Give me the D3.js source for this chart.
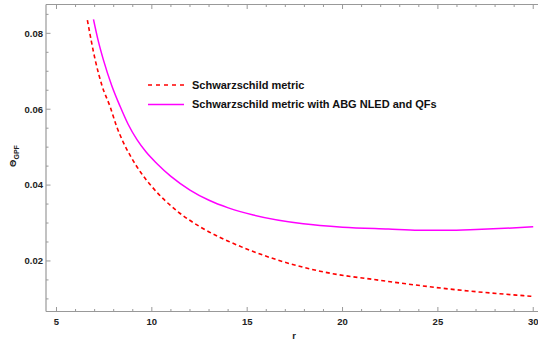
<!DOCTYPE html>
<html>
<head>
<meta charset="utf-8">
<script src="https://cdn.jsdelivr.net/npm/d3@7"></script>
<style>
  body { margin: 0; background: #fff; }
  svg text { font-family: "Liberation Sans", Arial, sans-serif; font-weight: bold; }
</style>
</head>
<body>
<div id="chart"></div>
<script>
// values
var schwR   = [6.62, 7.03, 7.4, 7.81, 8.15, 8.51, 8.9, 9.45, 10.0, 10.7, 11.39, 12.53, 13.58, 14.01, 16.2, 18.82, 21.96, 22.4, 25.98, 29.9];
var schwVal = [0.0835, 0.073, 0.066, 0.0607, 0.0555, 0.0512, 0.0475, 0.0431, 0.0396, 0.0359, 0.0329, 0.0290, 0.0262, 0.0252, 0.0209, 0.0173, 0.0149, 0.0146, 0.0124, 0.0107];
var qfR     = [6.94, 7.2, 7.46, 7.9, 8.34, 8.75, 9.23, 9.7, 10.26, 11.0, 12.0, 13.0, 14.01, 15.32, 17.94, 20.0, 22.4, 24.0, 25.46, 27.0, 28.5, 30.0];
var qfVal   = [0.0837, 0.0778, 0.073, 0.0662, 0.0607, 0.0561, 0.0519, 0.0487, 0.0457, 0.0423, 0.0387, 0.0360, 0.0340, 0.0321, 0.0298, 0.0289, 0.0284, 0.0281, 0.0281, 0.0283, 0.0286, 0.0290];
var xTicks = [5, 10, 15, 20, 25, 30];
var yTicks = [0.02, 0.04, 0.06, 0.08];
var legendLabels = ['Schwarzschild metric', 'Schwarzschild metric with ABG NLED and QFs'];

var width = 538, height = 343;
var mLeft = 46, mRight = 538, mTop = 4.5, mBottom = 311.5;

var svg = d3.select('#chart').append('svg')
  .attr('width', width)
  .attr('height', height);

var x = d3.scaleLinear().domain([4.45, 30.25]).range([mLeft, mRight]);
var y = d3.scaleLinear().domain([0.00668, 0.0876]).range([mBottom, mTop]);

var axisColor = '#999';
var minorX = d3.range(5, 31, 1);
var minorY = d3.range(0.01, 0.0876, 0.005);

// frame
var frame = svg.append('g').attr('stroke', axisColor).attr('stroke-width', 1.2).attr('fill', 'none');
frame.append('line').attr('x1', mLeft).attr('x2', mRight).attr('y1', mBottom).attr('y2', mBottom);
frame.append('line').attr('x1', mLeft).attr('x2', mLeft).attr('y1', mTop).attr('y2', mBottom);
frame.append('line').attr('x1', mLeft).attr('x2', mRight).attr('y1', mTop).attr('y2', mTop);

var ticks = svg.append('g').attr('stroke', axisColor).attr('stroke-width', 1);
minorX.forEach(function (v) {
  var len = xTicks.indexOf(v) >= 0 ? 4.5 : 2.5;
  ticks.append('line').attr('x1', x(v)).attr('x2', x(v)).attr('y1', mBottom).attr('y2', mBottom - len);
  ticks.append('line').attr('x1', x(v)).attr('x2', x(v)).attr('y1', mTop).attr('y2', mTop + len);
});
minorY.forEach(function (v) {
  var major = yTicks.some(function (t) { return Math.abs(t - v) < 1e-6; });
  var len = major ? 4.5 : 2.5;
  ticks.append('line').attr('x1', mLeft).attr('x2', mLeft + len).attr('y1', y(v)).attr('y2', y(v));
});

// tick labels
svg.append('g').selectAll('text').data(xTicks).enter().append('text')
  .attr('x', function (d) { return x(d); })
  .attr('y', mBottom + 13)
  .attr('text-anchor', 'middle')
  .attr('font-size', 9.5)
  .attr('fill', '#222')
  .text(function (d) { return d; });

svg.append('g').selectAll('text').data(yTicks).enter().append('text')
  .attr('x', mLeft - 3)
  .attr('y', function (d) { return y(d); })
  .attr('dy', '0.35em')
  .attr('text-anchor', 'end')
  .attr('font-size', 9.5)
  .attr('fill', '#222')
  .text(function (d) { return d3.format('.2f')(d); });

// axis labels
svg.append('text')
  .attr('x', 294).attr('y', 339)
  .attr('text-anchor', 'middle')
  .attr('font-size', 9.5)
  .attr('fill', '#222')
  .text('r');

var yl = svg.append('text')
  .attr('transform', 'translate(16,156) rotate(-90)')
  .attr('text-anchor', 'middle')
  .attr('font-size', 9.5)
  .attr('fill', '#222');
yl.append('tspan').text('\u0398');
yl.append('tspan').attr('font-size', 7).attr('dy', 3).text('GPF');

// curves
var line = d3.line()
  .x(function (d) { return x(d[0]); })
  .y(function (d) { return y(d[1]); })
  .curve(d3.curveMonotoneX);

svg.append('path')
  .datum(d3.zip(qfR, qfVal))
  .attr('d', line)
  .attr('fill', 'none')
  .attr('stroke', '#ff00ff')
  .attr('stroke-width', 1.5);

svg.append('path')
  .datum(d3.zip(schwR, schwVal))
  .attr('d', line)
  .attr('fill', 'none')
  .attr('stroke', '#ff0000')
  .attr('stroke-width', 1.6)
  .attr('stroke-dasharray', '4,3');

// legend
var legend = svg.append('g').attr('transform', 'translate(148,85)');
var legendStyles = [
  { color: '#ff0000', dash: '4,4' },
  { color: '#ff00ff', dash: null }
];
legendLabels.forEach(function (label, i) {
  var g = legend.append('g').attr('transform', 'translate(0,' + (i * 19.5) + ')');
  g.append('line')
    .attr('x1', 0).attr('x2', 36).attr('y1', 0).attr('y2', 0)
    .attr('stroke', legendStyles[i].color)
    .attr('stroke-width', 1.5)
    .attr('stroke-dasharray', legendStyles[i].dash);
  g.append('text')
    .attr('x', 44).attr('y', 0)
    .attr('dy', '0.35em')
    .attr('font-size', 11)
    .attr('fill', '#111')
    .text(label);
});
</script>
</body>
</html>
